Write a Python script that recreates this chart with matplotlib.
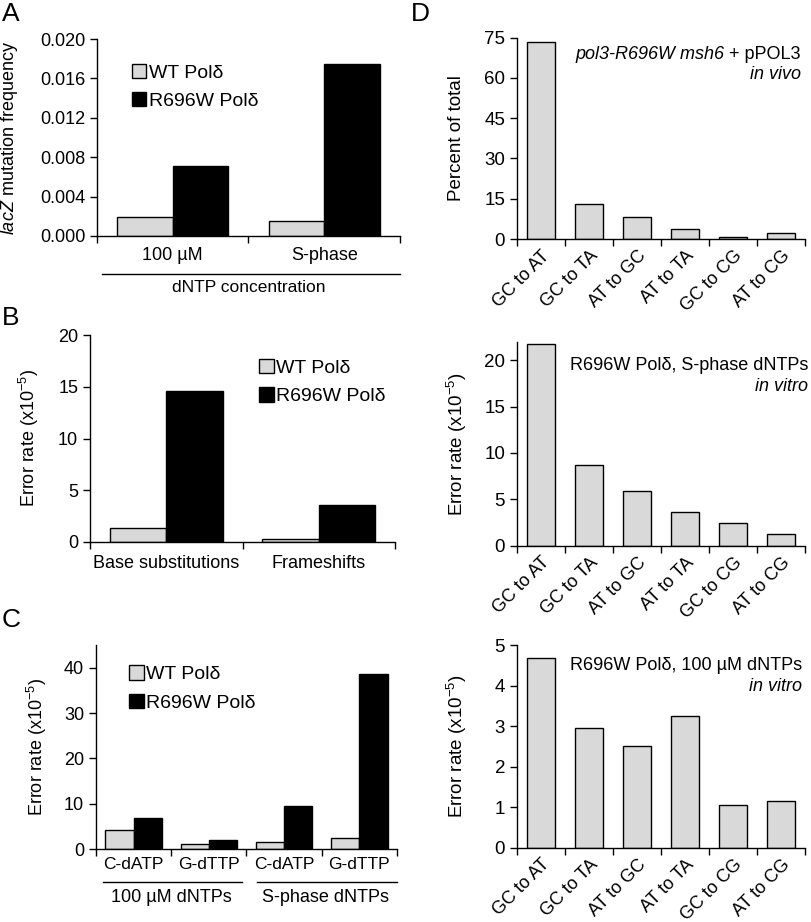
import matplotlib
matplotlib.use("Agg")
import matplotlib.pyplot as plt
import numpy as np

plt.rcParams['font.family'] = ['Liberation Sans', 'DejaVu Sans']
plt.rcParams['mathtext.fontset'] = 'custom'
plt.rcParams['mathtext.rm'] = 'Liberation Sans'
plt.rcParams['mathtext.it'] = 'Liberation Sans:italic'
plt.rcParams['font.size'] = 13
plt.rcParams['axes.linewidth'] = 1.0

GRAY = '#d9d9d9'
series = ['WT Polδ', 'R696W Polδ']

# panel A
a_cats = ['100 µM', 'S-phase']
a_wt = [0.0019, 0.00155]
a_mut = [0.0071, 0.0175]

# panel B
b_cats = ['Base substitutions', 'Frameshifts']
b_wt = [1.32, 0.26]
b_mut = [14.6, 3.57]

# panel C
c_cats = ['C-dATP', 'G-dTTP', 'C-dATP', 'G-dTTP']
c_groups = ['100 µM dNTPs', 'S-phase dNTPs']
c_wt = [4.1, 1.0, 1.6, 2.5]
c_mut = [6.9, 2.0, 9.5, 38.7]

# panel D
d_cats = ['GC to AT', 'GC to TA', 'AT to GC', 'AT to TA', 'GC to CG', 'AT to CG']
d_vivo = [73.5, 12.9, 8.1, 3.6, 0.6, 2.1]
d_sphase = [21.7, 8.65, 5.9, 3.65, 2.45, 1.3]
d_100 = [4.67, 2.96, 2.50, 3.24, 1.05, 1.14]

W, H = 812, 922
fig = plt.figure(figsize=(W / 100, H / 100), dpi=100)


def add_ax(l, r, t, b):
    return fig.add_axes([l / W, (H - b) / H, (r - l) / W, (b - t) / H])


def style(ax, n, fs=13):
    ax.spines['top'].set_visible(False)
    ax.spines['right'].set_visible(False)
    ax.set_xlim(-0.5, n - 0.5)
    ax.set_xticks(np.arange(n + 1) - 0.5)
    ax.set_xticklabels([])
    ax.tick_params(which='major', direction='out', length=5, width=1, labelsize=fs)
    ax.tick_params(which='minor', length=0, labelsize=fs)


def grouped(ax, wt, mut, w):
    x = np.arange(len(wt))
    ax.bar(x, wt, width=-w, align='edge', color=GRAY, edgecolor='black', lw=1, label=series[0])
    ax.bar(x, mut, width=w, align='edge', color='black', edgecolor='black', lw=1, label=series[1])


def legend(ax, x, y):
    ax.legend(loc='upper left', bbox_to_anchor=(x, y), frameon=False, fontsize=14,
              handlelength=0.75, handleheight=0.75, handletextpad=0.12,
              labelspacing=0.55, borderpad=0, borderaxespad=0)


# ---- A
axA = add_ax(97, 400, 39, 236)
grouped(axA, a_wt, a_mut, 0.365)
style(axA, 2)
axA.set_ylim(0, 0.020)
axA.set_yticks(np.arange(0, 0.0201, 0.004))
axA.set_yticklabels([f'{v:.3f}' for v in np.arange(0, 0.0201, 0.004)])
axA.set_xticks([0, 1], a_cats, minor=True)
axA.tick_params(axis='x', which='minor', pad=8)
axA.set_ylabel(r'$\mathit{lacZ}$ mutation frequency')
axA.yaxis.set_label_coords(-0.255, 0.5)
axA.plot([0.017, 1.0], [-0.193, -0.193], transform=axA.transAxes, color='black', lw=1, clip_on=False)
axA.text(0.5, -0.262, 'dNTP concentration', transform=axA.transAxes, ha='center', va='center', fontsize=12.5)
legend(axA, 0.115, 0.875)

# ---- B
axB = add_ax(90, 395, 335, 542)
grouped(axB, b_wt, b_mut, 0.37)
style(axB, 2)
axB.set_ylim(0, 20)
axB.set_yticks([0, 5, 10, 15, 20])
axB.set_xticks([0, 1], b_cats, minor=True)
axB.tick_params(axis='x', which='minor', pad=9)
axB.set_ylabel(r'Error rate (x10$^{-5}$)')
axB.yaxis.set_label_coords(-0.16, 0.5)
legend(axB, 0.555, 0.885)

# ---- C
axC = add_ax(96, 397, 645, 849)
grouped(axC, c_wt, c_mut, 0.375)
style(axC, 4)
axC.set_ylim(0, 45)
axC.set_yticks([0, 10, 20, 30, 40])
axC.set_xticks(np.arange(4), c_cats, minor=True)
axC.tick_params(axis='x', which='minor', pad=6, labelsize=12.5)
axC.set_ylabel(r'Error rate (x10$^{-5}$)')
axC.yaxis.set_label_coords(-0.155, 0.5)
for x0, x1, gx, g in [(-0.41, 1.44, 0.5, c_groups[0]), (1.64, 3.5, 2.55, c_groups[1])]:
    axC.plot([x0, x1], [-0.162, -0.162], transform=axC.get_xaxis_transform(), color='black', lw=1, clip_on=False)
    axC.text(gx, -0.24, g, transform=axC.get_xaxis_transform(), ha='center', va='center', fontsize=13)
legend(axC, 0.11, 0.9)

# ---- D
def dpanel(ax, vals, ymax, ticks, ylabel, lx):
    ax.bar(np.arange(6), vals, width=0.6, color=GRAY, edgecolor='black', lw=1)
    style(ax, 6, fs=13.5)
    ax.set_ylim(0, ymax)
    ax.set_yticks(ticks)
    ax.set_xticks(np.arange(6), d_cats, minor=True)
    ax.tick_params(axis='x', which='minor', pad=6, labelsize=13)
    plt.setp(ax.get_xticklabels(minor=True), rotation=45, ha='right', rotation_mode='anchor')
    ax.set_ylabel(ylabel, fontsize=13.5)
    ax.yaxis.set_label_coords(lx, 0.5)


axD1 = add_ax(517, 805, 37.7, 239)
dpanel(axD1, d_vivo, 75, [0, 15, 30, 45, 60, 75], 'Percent of total', -0.18)
t1 = axD1.text(0.985, 0.875, ' + pPOL3', transform=axD1.transAxes, ha='right', va='bottom', fontsize=13)
axD1.annotate('pol3-R696W msh6', xy=(0, 0), xycoords=t1, ha='right', va='bottom', style='italic', fontsize=13)
axD1.text(0.985, 0.775, 'in vivo', transform=axD1.transAxes, ha='right', va='bottom', style='italic', fontsize=13)

axD2 = add_ax(517, 805, 341.7, 545.7)
dpanel(axD2, d_sphase, 22, [0, 5, 10, 15, 20], r'Error rate (x10$^{-5}$)', -0.165)
axD2.text(1.01, 0.885, 'R696W Polδ, S-phase dNTPs', transform=axD2.transAxes, ha='right', va='center', fontsize=13)
axD2.text(1.01, 0.78, 'in vitro', transform=axD2.transAxes, ha='right', va='center', style='italic', fontsize=13)

axD3 = add_ax(517, 805, 645, 847.7)
dpanel(axD3, d_100, 5, [0, 1, 2, 3, 4, 5], r'Error rate (x10$^{-5}$)', -0.165)
axD3.text(0.99, 0.9, 'R696W Polδ, 100 µM dNTPs', transform=axD3.transAxes, ha='right', va='center', fontsize=13)
axD3.text(0.99, 0.795, 'in vitro', transform=axD3.transAxes, ha='right', va='center', style='italic', fontsize=13)

for lab, px, py in [('A', 2, 2), ('B', 2, 306), ('C', 2, 608), ('D', 411, 2)]:
    fig.text(px / W, 1 - py / H, lab, fontsize=19, ha='left', va='top')

fig.savefig('out.png', dpi=100)
